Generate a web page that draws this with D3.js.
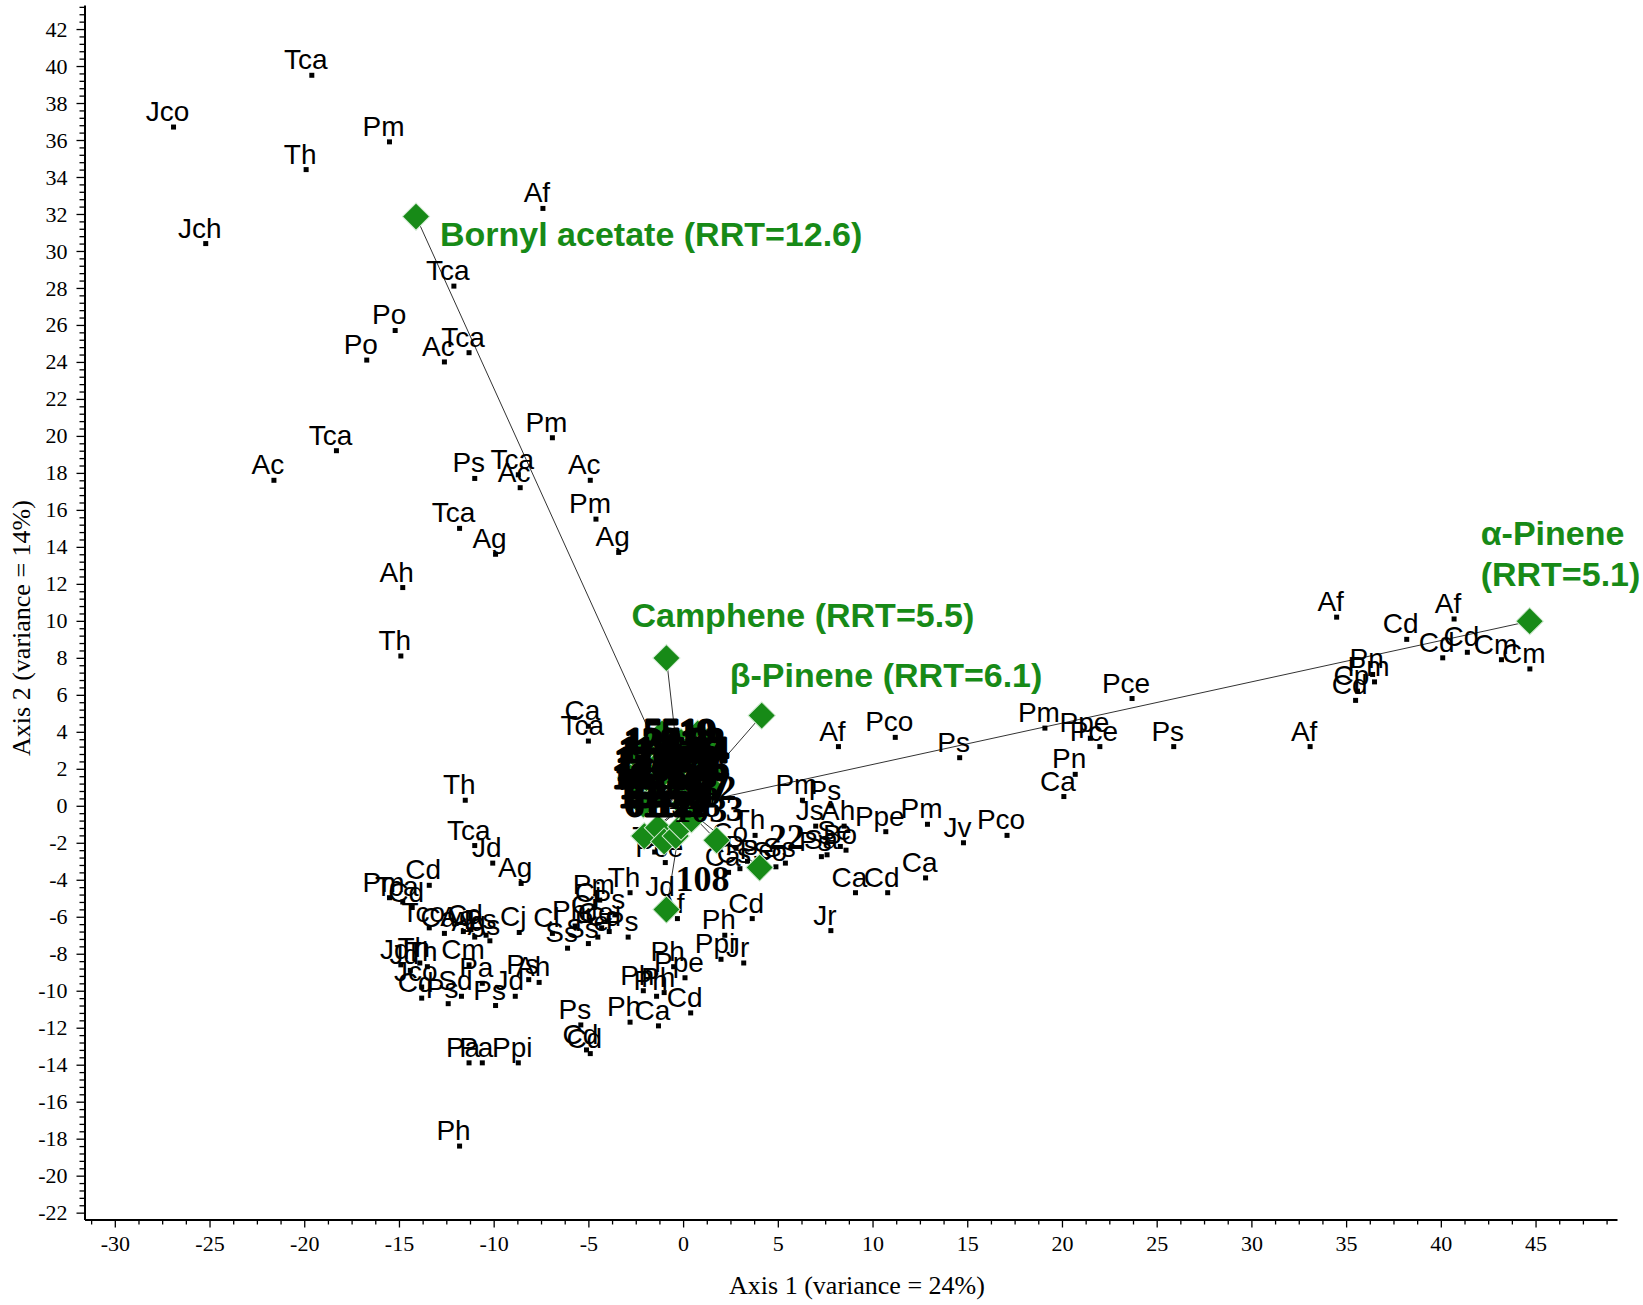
<!DOCTYPE html>
<html>
<head>
<meta charset="utf-8">
<script src="https://cdn.jsdelivr.net/npm/d3@7"></script>
<style>
  body { margin: 0; background: #fff; }
  svg { display: block; }
</style>
</head>
<body>
<div id="chart"></div>
<script>
// sample scores: [label, axis1, axis2]
const samples = [
    ["Tca", -19.6, 39.5], ["Jco", -26.9, 36.7], ["Pm", -15.5, 35.9], ["Th", -19.9, 34.4],
    ["Af", -7.4, 32.3], ["Jch", -25.2, 30.4], ["Tca", -12.1, 28.1], ["Po", -15.2, 25.7],
    ["Po", -16.7, 24.1], ["Ac", -12.6, 24.0], ["Tca", -11.3, 24.5], ["Pm", -6.9, 19.9],
    ["Tca", -18.3, 19.2], ["Ac", -21.6, 17.6], ["Ps", -11.0, 17.7], ["Tca", -8.7, 17.9],
    ["Ac", -8.6, 17.2], ["Ac", -4.9, 17.6], ["Pm", -4.6, 15.5], ["Tca", -11.8, 15.0],
    ["Ag", -9.9, 13.6], ["Ag", -3.4, 13.7], ["Ah", -14.8, 11.8], ["Th", -14.9, 8.1],
    ["Ca", -5.0, 4.3], ["Tca", -5.0, 3.5], ["Th", -11.5, 0.3]
];
const samplesRight = [
    ["Af", 8.2, 3.2], ["Pco", 11.2, 3.7], ["Ps", 14.6, 2.6], ["Pm", 19.1, 4.2],
    ["Pce", 23.7, 5.8], ["Ppe", 21.5, 3.65], ["Pce", 22.0, 3.2], ["Pn", 20.7, 1.7],
    ["Ca", 20.1, 0.5], ["Ps", 25.9, 3.2], ["Af", 33.1, 3.2], ["Af", 34.5, 10.2],
    ["Af", 40.7, 10.1], ["Cd", 38.2, 9.0], ["Cd", 40.1, 8.0], ["Cd", 41.4, 8.3],
    ["Cm", 43.2, 7.9], ["Cm", 44.7, 7.4], ["Pn", 36.4, 7.1], ["Pm", 36.5, 6.7],
    ["Cp", 35.6, 6.2], ["Cd", 35.5, 5.7],
    ["Pm", 6.3, 0.3], ["Ps", 7.8, 0.0], ["Js", 7.0, -1.1], ["Ah", 8.5, -1.1],
    ["Ppe", 10.7, -1.4], ["Pm", 12.9, -1.0], ["Jv", 14.8, -2.0], ["Pco", 17.1, -1.6],
    ["Th", 3.8, -1.6], ["Ps", 7.3, -2.75], ["Sa", 7.6, -2.65], ["Bo", 8.6, -2.4],
    ["Se", 8.3, -2.2], ["Ca", 12.8, -3.9], ["Ca", 9.1, -4.7], ["Cd", 10.8, -4.7],
    ["Cd", 3.65, -6.1], ["Jr", 7.8, -6.75]
];
const samplesCentre = [
    ["Pm", 1.4, 1.5], ["Co", 2.8, -2.3], ["Ca", 2.4, -3.6], ["Cs", 3.0, -3.4],
    ["Ps", 3.4, -3.0], ["Pe", 4.2, -3.2], ["So", 4.9, -3.3], ["Ss", 5.4, -3.1],
    ["Th", -1.5, -2.5], ["Pce", -0.94, -3.07],
    ["Th", -2.8, -4.7], ["Pm", -4.4, -5.1], ["Ci", -4.7, -5.5], ["Jd", -0.9, -5.2],
    ["Af", -0.3, -6.1], ["Ph", 2.2, -7.0], ["Ppi", 2.0, -8.3], ["Jr", 3.2, -8.5],
    ["Ph", -0.5, -8.7], ["Ppe", 0.1, -9.3], ["Ph", -2.1, -10.0], ["Ph", -1.4, -10.3],
    ["Ph", -1.0, -10.1], ["Cd", 0.4, -11.2], ["Ca", -1.3, -11.9], ["Ph", -2.8, -11.7],
    ["Ps", -5.4, -11.85], ["Cd", -5.1, -13.2], ["Cd", -4.9, -13.4],
    ["Cl", -6.9, -6.9], ["Ss", -6.1, -7.7], ["Ss", -5.0, -7.45], ["Ph", -5.7, -6.5],
    ["Cj", -4.9, -6.2], ["Ce", -4.3, -6.6], ["Ps", -3.6, -5.9], ["Pe", -4.5, -7.1],
    ["Ps", -2.9, -7.1], ["Cd", -3.9, -6.8]
];
const samplesLowLeft = [
    ["Tca", -11.0, -2.15], ["Jd", -10.05, -3.1], ["Ag", -8.55, -4.2], ["Cd", -13.4, -4.3],
    ["Pm", -15.5, -4.97], ["Cd", -14.3, -5.5], ["Tca", -14.8, -5.2], ["Tco", -13.4, -6.6],
    ["Ca", -12.6, -6.9], ["Ag", -11.6, -6.8], ["Cd", -11.2, -6.7], ["Ag", -11.0, -7.1],
    ["Ps", -10.4, -7.0], ["As", -10.2, -7.3], ["Cj", -8.65, -6.85],
    ["Jd", -14.9, -8.6], ["Jd", -14.4, -8.9], ["Th", -13.9, -8.5], ["Th", -13.5, -8.7],
    ["Cm", -11.3, -8.6], ["Jco", -13.8, -9.8], ["Cd", -13.8, -10.4], ["Ps", -12.4, -10.7],
    ["Sd", -11.7, -10.3], ["Pa", -10.6, -9.6], ["Ps", -9.9, -10.8], ["Jd", -8.86, -10.3],
    ["Ps", -8.15, -9.4], ["Ah", -7.6, -9.55], ["Pa", -11.3, -13.9], ["Pa", -10.6, -13.9],
    ["Ppi", -8.7, -13.9], ["Ph", -11.8, -18.4]
];

// variable loadings (scaled): [label, axis1, axis2]
// packed near the origin, label printed over the marker
const variablesCore = [
    ["55", -1.11, 3.91], ["19", 0.77, 3.91],
    ["128", -1.66, 3.46], ["41", -0.11, 3.46], ["93", 1.22, 3.46],
    ["118", -1.99, 2.95], ["64", 0.11, 2.95], ["84", 1.44, 2.95],
    ["12", -2.65, 2.44], ["111", -1.11, 2.49], ["26", 0.77, 2.49],
    ["120", -2.10, 1.98], ["47", -0.11, 1.98], ["36", 1.44, 1.98],
    ["18", -2.77, 1.53], ["116", -1.22, 1.53], ["29", 0.66, 1.53],
    ["13", -2.38, 1.02], ["126", -0.28, 1.02], ["87", 1.44, 1.02],
    ["125", -1.38, 0.57], ["71", 0.77, 0.57], ["15", -2.43, 0.51],
    ["61", -2.10, 0.06], ["127", 0.0, 0.06]
];
// label printed up-right of the marker
const variablesOuter = [
    ["132", -2.05, -1.64], ["11", -1.33, -1.19], ["103", -1.0, -1.93],
    ["58", -0.39, -1.64], ["7", -0.11, -1.13], ["32", 0.44, -0.74],
    ["3", 1.77, -1.87], ["22", 4.04, -3.34], ["108", -0.88, -5.61]
];
const namedVariables = [
    ["Bornyl acetate (RRT=12.6)", -14.1, 31.86],
    ["Camphene (RRT=5.5)", -0.88, 7.99],
    ["β-Pinene (RRT=6.1)", 4.15, 4.88],
    ["α-Pinene|(RRT=5.1)", 44.69, 9.98]
];

const xMajor = d3.range(-30, 46, 5);
const yMajor = d3.range(-22, 43, 2);

// label placement for the named loadings (px)
const namedOffsets = [
    { dx: 24, dy: 29 },
    { dx: -35, dy: -31 },
    { dx: -32, dy: -29 },
    { dx: -49, dy: -76, lead: 41 }
];

const W = 1643, H = 1305;
const green = "#178a17";
const serif = "'Liberation Serif', 'Times New Roman', serif";
const sans = "'Liberation Sans', Arial, sans-serif";

const svg = d3.select("#chart").append("svg")
    .attr("width", W).attr("height", H)
    .style("background", "#fff");

const x = d3.scaleLinear().domain([-31.6, 49.3]).range([84.5, 1617]);
const y = d3.scaleLinear().domain([-22.37, 43.3]).range([1219.5, 5]);

// minor ticks
const xMinor = d3.range(-31.25, 49.3, 1.25).filter(v => Math.abs(v / 5 - Math.round(v / 5)) > 1e-6);
const yMinor = d3.range(-22, 43.3, 0.4).filter(v => Math.abs(v / 2 - Math.round(v / 2)) > 1e-6);

const fmt = d => String(d);

const gxMinor = svg.append("g").attr("transform", `translate(0,${y.range()[0]})`)
    .call(d3.axisBottom(x).tickValues(xMinor).tickSize(5).tickSizeOuter(0).tickFormat(""));
gxMinor.select(".domain").remove();
const gx = svg.append("g").attr("transform", `translate(0,${y.range()[0]})`)
    .call(d3.axisBottom(x).tickValues(xMajor).tickSize(8).tickSizeOuter(0).tickPadding(8).tickFormat(fmt));

const gyMinor = svg.append("g").attr("transform", `translate(${x.range()[0]},0)`)
    .call(d3.axisLeft(y).tickValues(yMinor).tickSize(5).tickSizeOuter(0).tickFormat(""));
gyMinor.select(".domain").remove();
const gy = svg.append("g").attr("transform", `translate(${x.range()[0]},0)`)
    .call(d3.axisLeft(y).tickValues(yMajor).tickSize(8).tickSizeOuter(0).tickPadding(9).tickFormat(fmt));

svg.selectAll(".domain").attr("stroke", "#000").attr("stroke-width", 2);
svg.selectAll(".tick line").attr("stroke", "#000").attr("stroke-width", 1.3);
svg.selectAll(".tick text")
   .attr("font-family", serif)
   .attr("font-size", 22)
   .attr("fill", "#000");

svg.append("text")
   .attr("x", 857).attr("y", 1294)
   .attr("text-anchor", "middle")
   .attr("font-family", serif)
   .attr("font-size", 26)
   .text("Axis 1 (variance = 24%)");

svg.append("text")
   .attr("transform", "translate(30,628) rotate(-90)")
   .attr("text-anchor", "middle")
   .attr("font-family", serif)
   .attr("font-size", 26)
   .text("Axis 2 (variance = 14%)");

const allVars = variablesCore.concat(variablesOuter, namedVariables);

// vectors from origin
svg.append("g").selectAll("line")
   .data(allVars)
   .join("line")
   .attr("x1", x(0)).attr("y1", y(0))
   .attr("x2", d => x(d[1])).attr("y2", d => y(d[2]))
   .attr("stroke", "#333").attr("stroke-width", 1);

// samples
const allSamples = samples.concat(samplesRight, samplesCentre, samplesLowLeft);
const sg = svg.append("g");
sg.selectAll("rect")
  .data(allSamples)
  .join("rect")
  .attr("x", d => x(d[1]) - 2.5).attr("y", d => y(d[2]) - 2.5)
  .attr("width", 5).attr("height", 5)
  .attr("fill", "#000");
sg.selectAll("text")
  .data(allSamples)
  .join("text")
  .attr("x", d => x(d[1]) - 6).attr("y", d => y(d[2]) - 6)
  .attr("text-anchor", "middle")
  .attr("font-family", sans)
  .attr("font-size", 28)
  .attr("fill", "#000")
  .text(d => d[0]);

// diamonds
const diamond = d3.symbol(d3.symbolSquare, 370);
svg.append("g").selectAll("path")
   .data(allVars)
   .join("path")
   .attr("d", diamond)
   .attr("transform", d => `translate(${x(d[1])},${y(d[2])}) rotate(45)`)
   .attr("fill", green)
   .attr("stroke", "#cfe9cf")
   .attr("stroke-width", 1);

// numbered loadings
const numStyle = sel => sel
   .attr("font-family", serif)
   .attr("font-weight", "bold")
   .attr("font-size", 36)
   .attr("fill", "#000")
   .text(d => d[0]);

svg.append("g").selectAll("text")
   .data(variablesOuter)
   .join("text")
   .attr("x", d => x(d[1]) + 9).attr("y", d => y(d[2]) - 19)
   .call(numStyle);

svg.append("g").selectAll("text")
   .data(variablesCore)
   .join("text")
   .attr("x", d => x(d[1])).attr("y", d => y(d[2]) + 11)
   .attr("text-anchor", "middle")
   .attr("stroke", "#000")
   .attr("stroke-width", 3)
   .attr("stroke-linejoin", "round")
   .call(numStyle);

// named loadings
const ng = svg.append("g");
namedVariables.forEach((d, i) => {
    const o = namedOffsets[i];
    const t = ng.append("text")
        .attr("x", x(d[1]) + o.dx).attr("y", y(d[2]) + o.dy)
        .attr("font-family", sans)
        .attr("font-weight", "bold")
        .attr("font-size", 34)
        .attr("fill", green);
    d[0].split("|").forEach((line, j) => {
        t.append("tspan")
         .attr("x", x(d[1]) + o.dx)
         .attr("dy", j === 0 ? 0 : o.lead)
         .text(line);
    });
});
</script>
</body>
</html>
